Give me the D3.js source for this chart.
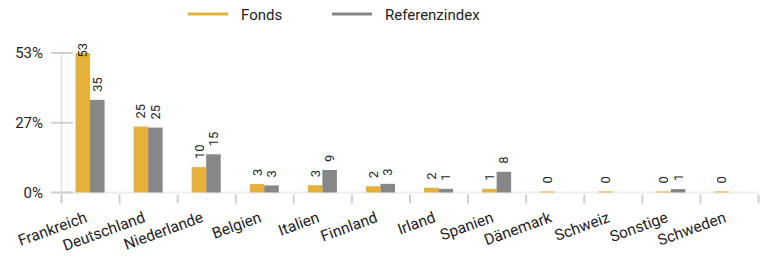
<!DOCTYPE html>
<html>
<head>
<meta charset="utf-8">
<script src="https://cdn.jsdelivr.net/npm/d3@7"></script>
<style>
  body { margin: 0; background: #fff; }
  text { font-family: Roboto, "Noto Sans", sans-serif; fill: #1e1e1e; }
</style>
</head>
<body>
<div id="chart"></div>
<script>
// data
const categories = ["Frankreich", "Deutschland", "Niederlande", "Belgien", "Italien", "Finnland", "Irland", "Spanien", "Dänemark", "Schweiz", "Sonstige", "Schweden"]
const seriesNames = ["Fonds", "Referenzindex"]
const fonds = [53.3, 25.2, 9.7, 3.2, 2.8, 2.4, 1.8, 1.4, 0.4, 0.4, 0.4, 0.4]
const referenz = [35.4, 24.8, 14.6, 2.7, 8.6, 3.3, 1.4, 7.9, null, null, 1.3, null]
const fondsLabels = ["53", "25", "10", "3", "3", "2", "2", "1", "0", "0", "0", "0"]
const referenzLabels = ["35", "25", "15", "3", "9", "3", "1", "8", "", "", "1", ""]
const yTicks = [0, 26.65, 53.3]
const yTickLabels = ["0%", "27%", "53%"]

const colors = ["#e5b13b", "#878787"]

const width = 768
const height = 263
const margin = { top: 53, bottom: 70.5, left: 61, right: 10 }

const svg = d3.select("#chart")
  .append("svg")
  .attr("width", width)
  .attr("height", height)

const plotBottom = height - margin.bottom
const plotRight = 758

// scales
const x = d3.scaleBand()
  .domain(categories)
  .range([margin.left, plotRight])

const x1 = d3.scaleBand()
  .domain(seriesNames)
  .range([0, x.bandwidth()])
  .paddingInner(0)
  .paddingOuter(1)

const y = d3.scaleLinear()
  .domain([0, 53.3])
  .range([plotBottom, margin.top])

// legend
const legend = svg.append("g")
const legendX = [188, 332]
seriesNames.forEach((name, i) => {
  legend.append("line")
    .attr("x1", legendX[i]).attr("x2", legendX[i] + 40)
    .attr("y1", 14).attr("y2", 14)
    .attr("stroke", colors[i])
    .attr("stroke-width", 3)
  legend.append("text")
    .attr("x", legendX[i] + 53)
    .attr("y", 15)
    .attr("dominant-baseline", "central")
    .style("font-size", "15px")
    .text(name)
})

// y axis line
svg.append("line")
  .attr("x1", margin.left + 0.5).attr("x2", margin.left + 0.5)
  .attr("y1", margin.top).attr("y2", plotBottom + 10)
  .attr("stroke", "#e6e6ec")
  .attr("stroke-width", 2)

// baseline
svg.append("line")
  .attr("x1", 51).attr("x2", plotRight + 1)
  .attr("y1", plotBottom).attr("y2", plotBottom)
  .attr("stroke", "#eceef2")
  .attr("stroke-width", 2)

// y ticks
const yAxis = svg.append("g")
yAxis.selectAll("line")
  .data(yTicks)
  .enter()
  .append("line")
  .attr("x1", 51).attr("x2", 73)
  .attr("y1", d => y(d)).attr("y2", d => y(d))
  .attr("stroke", "#cfcfcf")
  .attr("stroke-width", 2)

yAxis.selectAll("text")
  .data(yTicks)
  .enter()
  .append("text")
  .attr("x", 43)
  .attr("y", d => y(d))
  .attr("dy", "0.35em")
  .attr("text-anchor", "end")
  .style("font-size", "15px")
  .text((d, i) => yTickLabels[i])

// x ticks at band edges
const xEdges = categories.map(c => x(c)).concat([plotRight])
svg.append("g").selectAll("line")
  .data(xEdges)
  .enter()
  .append("line")
  .attr("x1", d => d + 0.5).attr("x2", d => d + 0.5)
  .attr("y1", plotBottom + 2).attr("y2", plotBottom + 11)
  .attr("stroke", "#cfcfcf")
  .attr("stroke-width", 2)

// x labels
svg.append("g").selectAll("text")
  .data(categories)
  .enter()
  .append("text")
  .attr("transform", d => `translate(${x(d) + x.bandwidth() / 2 - 2},${plotBottom + 29}) rotate(-20)`)
  .attr("text-anchor", "end")
  .style("font-size", "15.5px")
  .text(d => d)

// bars
const series = [
  { name: seriesNames[0], values: fonds, labels: fondsLabels },
  { name: seriesNames[1], values: referenz, labels: referenzLabels }
]

series.forEach((s, si) => {
  const pts = categories.map((c, i) => ({ c, v: s.values[i], label: s.labels[i] }))
    .filter(d => d.v !== null)

  svg.append("g").selectAll("rect")
    .data(pts)
    .enter()
    .append("rect")
    .attr("x", d => x(d.c) + x1(s.name))
    .attr("y", d => y(d.v))
    .attr("width", x1.bandwidth())
    .attr("height", d => plotBottom - y(d.v))
    .attr("fill", colors[si])

  // value labels, rotated, kept inside the plot top
  svg.append("g").selectAll("text")
    .data(pts)
    .enter()
    .append("text")
    .attr("transform", d => {
      const tw = 7.3 * d.label.length
      let ly = y(d.v) - 8
      if (ly - tw < 43) ly = 43 + tw
      return `translate(${x(d.c) + x1(s.name) + x1.bandwidth() / 2},${ly}) rotate(-90)`
    })
    .attr("dy", "0.35em")
    .style("font-size", "13px")
    .text(d => d.label)
})
</script>
</body>
</html>
